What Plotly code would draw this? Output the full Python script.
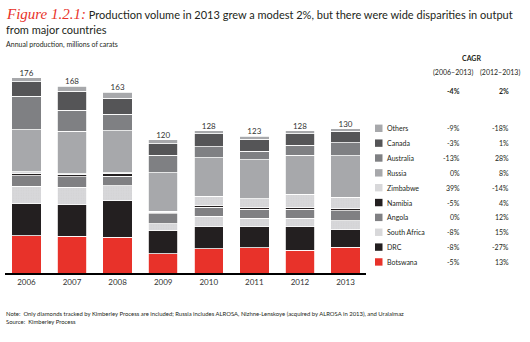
import plotly.graph_objects as go

W, H = 530, 342
ML, MR, MT, MB = 5, 164, 62, 69
PW, PH = W - ML - MR, H - MT - MB

years = ['2006', '2007', '2008', '2009', '2010', '2011', '2012', '2013']
totals = [176, 168, 163, 120, 128, 123, 128, 130]

botswana = [33.5, 33.0, 32.0, 17.5, 22.0, 22.7, 20.3, 23.0]
drc = [29.5, 29.0, 33.0, 21.0, 20.2, 19.2, 21.5, 15.8]
south_africa = [15.2, 15.0, 13.5, 6.0, 9.0, 7.4, 7.4, 8.1]
angola = [9.5, 9.5, 8.8, 9.0, 7.9, 8.0, 8.2, 9.2]
namibia = [2.3, 2.2, 2.3, 0.9, 1.4, 1.3, 1.5, 1.6]
zimbabwe = [1.0, 0.8, 0.8, 1.2, 8.4, 8.2, 12.0, 10.4]
russia = [38.0, 38.2, 37.5, 34.6, 35.0, 35.2, 35.0, 37.5]
australia = [30.0, 18.8, 15.0, 15.8, 9.8, 7.8, 9.0, 11.7]
canada = [13.0, 17.0, 14.5, 10.5, 11.8, 10.8, 10.3, 10.4]
others = [4.0, 4.5, 5.5, 3.5, 2.5, 2.4, 2.8, 2.2]

# legend rows, top to bottom
legend_names = ['Others', 'Canada', 'Australia', 'Russia', 'Zimbabwe', 'Namibia',
                'Angola', 'South Africa', 'DRC', 'Botswana']
cagr_0613 = ['-9%', '-3%', '-13%', '0%', '39%', '-5%', '0%', '-8%', '-8%', '-5%']
cagr_1213 = ['-18%', '1%', '28%', '8%', '-14%', '4%', '12%', '15%', '-27%', '13%']
cagr_total = ['-4%', '2%']

series = [
    ('Botswana', botswana, '#E8322A', None),
    ('DRC', drc, '#231F20', None),
    ('South Africa', south_africa, '#D8D8DA', '.'),
    ('Angola', angola, '#808083', None),
    ('Namibia', namibia, '#231F20', None),
    ('Zimbabwe', zimbabwe, '#D8D8DA', '.'),
    ('Russia', russia, '#A7A8AB', None),
    ('Australia', australia, '#7F8083', None),
    ('Canada', canada, '#555557', None),
    ('Others', others, '#A7A8AB', None),
]
colors = {n: c for n, _, c, _ in series}

FONT = 'Lato'
TXT = '#231F20'

def px(x):
    return (x - ML) / PW

def py(y):
    return (H - MB - y) / PH

fig = go.Figure()
for name, vals, col, pat in series:
    marker = dict(color=col, line=dict(color='white', width=0.8))
    if pat:
        marker['pattern'] = dict(shape=pat, fgcolor='#CBCBCE', bgcolor=col,
                                 size=2.5, solidity=0.3)
    fig.add_trace(go.Bar(x=years, y=vals, name=name, marker=marker, width=0.645,
                         hoverinfo='skip'))

fig.add_trace(go.Scatter(x=years, y=totals, mode='text', text=[str(t) for t in totals],
                         textposition='top center', cliponaxis=False, hoverinfo='skip',
                         textfont=dict(size=8, color='#333333', family=FONT)))

ann = []

def note(x, y, text, size, anchor='left', bold=False):
    ann.append(dict(x=px(x), y=py(y), xref='paper', yref='paper', xanchor=anchor,
                    yanchor='middle', text=('<b>%s</b>' % text) if bold else text,
                    showarrow=False, font=dict(size=size, color=TXT, family=FONT)))

# title
note(4, 14, '<i><span style="font-family:Liberation Serif;color:#E8322A;font-size:15px">Figure 1.2.1:</span></i>'
            ' Production volume in 2013 grew a modest 2%, but there were wide disparities in output', 11)
note(4, 29, 'from major countries', 11)
note(4, 44, 'Annual production, millions of carats', 7)

# CAGR header
note(471, 58, 'CAGR', 7, 'center', True)
note(453, 72, '(2006–2013)', 7, 'center')
note(500, 72, '(2012–2013)', 7, 'center')
note(462, 91.5, cagr_total[0], 7, 'right', True)
note(511, 91.5, cagr_total[1], 7, 'right', True)

shapes = []
row0, step = 128.3, 14.85
for i, (n, c1, c2) in enumerate(zip(legend_names, cagr_0613, cagr_1213)):
    yc = row0 + i * step
    shapes.append(dict(type='rect', xref='paper', yref='paper',
                       x0=px(375), x1=px(382.5), y0=py(yc + 3.7), y1=py(yc - 3.7),
                       fillcolor=colors[n], line=dict(width=0)))
    note(385, yc, n, 7)
    note(462, yc, c1, 7, 'right')
    note(511, yc, c2, 7, 'right')

# notes
note(4, 313.5, 'Note:  Only diamonds tracked by Kimberley Process are included; Russia includes ALROSA, '
               'Nizhne-Lenskoye (acquired by ALROSA in 2013), and Uralalmaz', 5.9)
note(4, 321, 'Source:  Kimberley Process', 5.9)

fig.update_layout(
    barmode='stack', width=W, height=H, showlegend=False,
    margin=dict(l=ML, r=MR, t=MT, b=MB),
    paper_bgcolor='white', plot_bgcolor='white',
    annotations=ann, shapes=shapes,
    xaxis=dict(type='category', range=[-0.47, 7.45], showline=True, linecolor='#000000',
               linewidth=2, ticks='', showgrid=False, zeroline=False,
               tickfont=dict(size=8, color='#333333', family=FONT)),
    yaxis=dict(range=[0, 190], visible=False, showgrid=False, zeroline=False),
    font=dict(family=FONT),
)
fig.write_html('out.html')
